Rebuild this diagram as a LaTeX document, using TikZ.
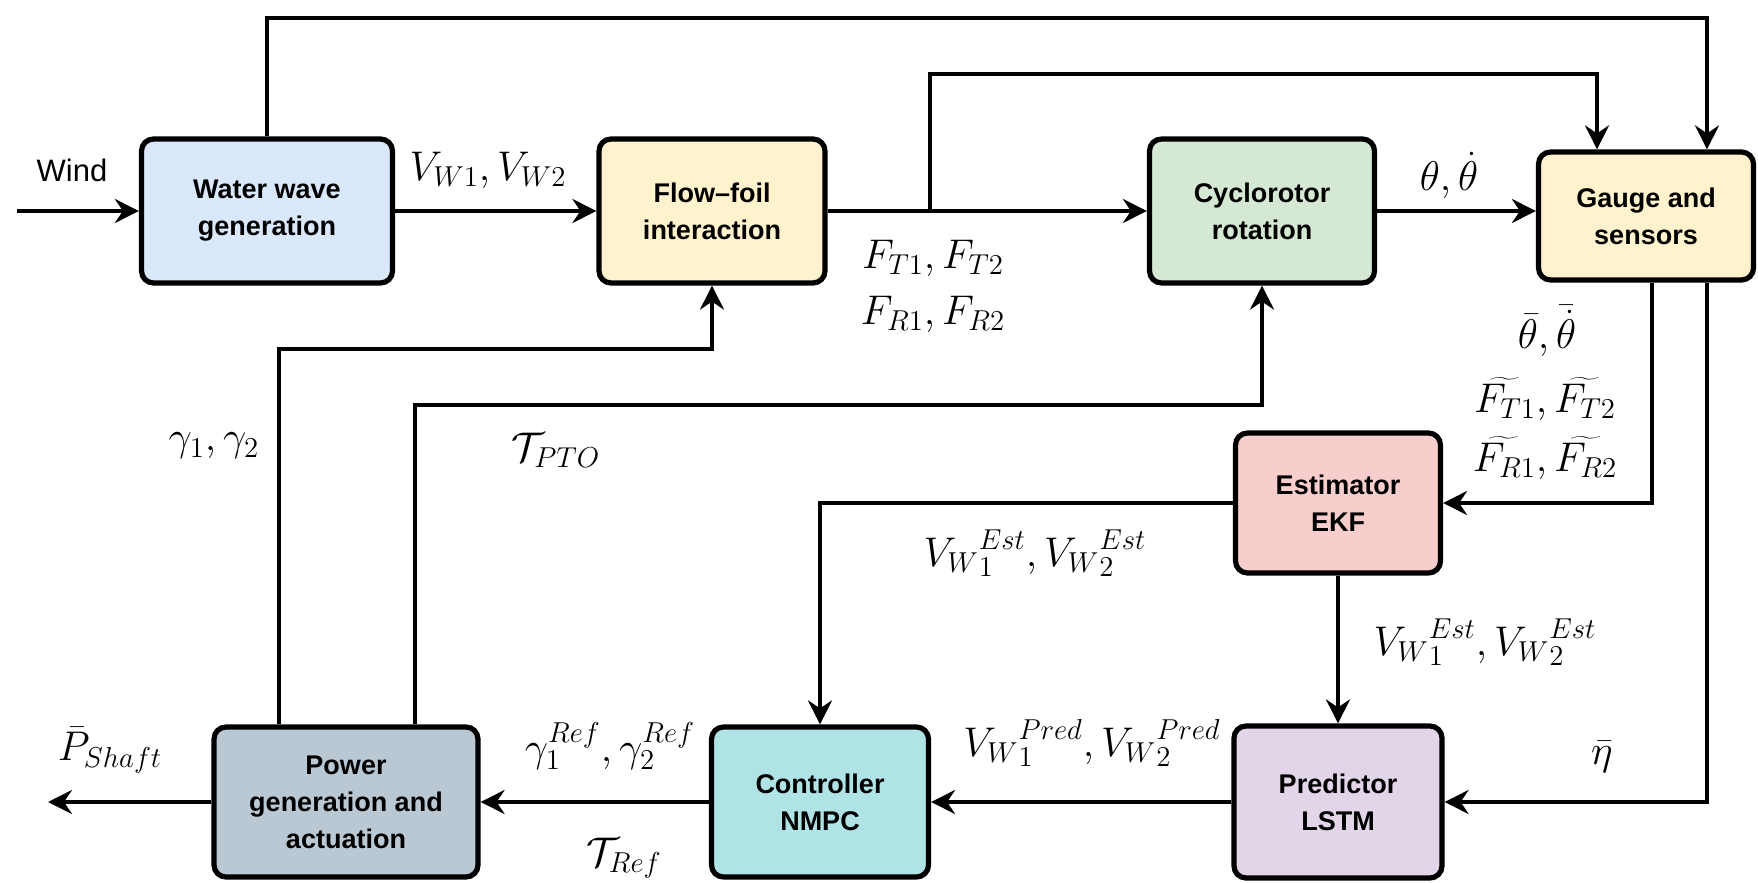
\documentclass[tikz,border=0pt]{standalone}
\usepackage{fontspec}
\setsansfont{Liberation Sans}
\usetikzlibrary{arrows.meta,calc}
\definecolor{cww}{HTML}{DAE8FC}
\definecolor{cyel}{HTML}{FFF2CC}
\definecolor{cgrn}{HTML}{D5E8D4}
\definecolor{cred}{HTML}{F8CECC}
\definecolor{cpur}{HTML}{E1D5E7}
\definecolor{ccyn}{HTML}{B0E3E6}
\definecolor{cgry}{HTML}{BAC8D3}
\tikzset{
  bx/.style 2 args={draw=black, line width=2.6pt, rounded corners=6pt, inner sep=0pt,
    minimum width=#1*0.5pt, minimum height=#2*0.5pt, align=center,
    font=\sffamily\bfseries\fontsize{13.5}{18.5}\selectfont},
  arr/.style={line width=1.7pt, -{Stealth[length=12pt,width=12pt,inset=4pt]}},
  lbl/.style={inner sep=0pt, font=\huge},
  windlbl/.style={inner sep=0pt, font=\sffamily\fontsize{15.5}{18}\selectfont}
}
\begin{document}
\begin{tikzpicture}[x=0.5pt,y=-0.5pt]
\useasboundingbox (0,0) rectangle (1758,883);
% boxes
\node[bx={251}{144}, fill=cww] (ww) at (267,211) {Water wave\\generation};
\node[bx={226}{144}, fill=cyel] (ff) at (712,211) {Flow--foil\\interaction};
\node[bx={225}{144}, fill=cgrn] (cy) at (1262,211) {Cyclorotor\\rotation};
\node[bx={215}{128}, fill=cyel] (gs) at (1646,216) {Gauge and\\sensors};
\node[bx={205}{140}, fill=cred] (est) at (1338,503) {Estimator\\EKF};
\node[bx={208}{152}, fill=cpur] (pred) at (1338,802) {Predictor\\LSTM};
\node[bx={217}{150}, fill=ccyn] (ctrl) at (820,802) {Controller\\NMPC};
\node[bx={264}{150}, fill=cgry] (pow) at (346,802) {Power\\generation and\\actuation};
% coordinates
\coordinate (ws) at (17,211);
\coordinate (br) at (930,211);
\coordinate (t2) at (1707,18);
\coordinate (b2) at (1597,74);
\coordinate (g1) at (1652,503);
\coordinate (g2) at (1707,802);
\coordinate (pe) at (48,802);
\coordinate (p1) at (279,349);
\coordinate (p2) at (415,405);
% connectors
\draw[arr] (ws) -- (ww.west);
\draw[arr] (ww.east) -- (ff.west);
\draw[arr] (ff.east) -- (cy.west);
\draw[arr] (br) |- (b2) -- (b2 |- gs.north);
\draw[arr] (ww.north) |- (t2) -- (t2 |- gs.north);
\draw[arr] (cy.east) -- (cy.east -| gs.west);
\draw[arr] (gs.south -| g1) -- (g1) -- (est.east);
\draw[arr] (gs.south -| g2) -- (g2) -- (pred.east);
\draw[arr] (est.west) -| (ctrl.north);
\draw[arr] (est.south) -- (pred.north);
\draw[arr] (pred.west) -- (ctrl.east);
\draw[arr] (ctrl.west) -- (pow.east);
\draw[arr] (pow.west) -- (pe);
\draw[arr] (pow.north -| p1) -- (p1) -| (ff.south);
\draw[arr] (pow.north -| p2) -- (p2) -| (cy.south);
% labels
\node[windlbl] (lw) at (72,170) {Wind};
\node[lbl] (lvw) at (488,170) {$V_{W1},V_{W2}$};
\node[lbl] (lft) at (933,258) {$F_{T1},F_{T2}$};
\node[lbl] (lfr) at (933,314) {$F_{R1},F_{R2}$};
\node[lbl] (lth) at (1449,175) {$\theta,\dot{\theta}$};
\node[lbl] (ls1) at (1547,331) {$\bar{\theta},\bar{\dot{\theta}}$};
\node[lbl] (ls2) at (1545,399) {$\widetilde{F_{T1}},\widetilde{F_{T2}}$};
\node[lbl] (ls3) at (1545,458) {$\widetilde{F_{R1}},\widetilde{F_{R2}}$};
\node[lbl] (le1) at (1035,553) {${V_W}_1^{Est},{V_W}_2^{Est}$};
\node[lbl] (le2) at (1485,642) {${V_W}_1^{Est},{V_W}_2^{Est}$};
\node[lbl] (lpr) at (1092,743) {${V_W}_1^{Pred},{V_W}_2^{Pred}$};
\node[lbl] (lgr) at (610,746) {$\gamma_1^{Ref},\gamma_2^{Ref}$};
\node[lbl] (ltr) at (624,858) {$\mathcal{T}_{Ref}$};
\node[lbl] (lps) at (110,750) {$\bar{P}_{Shaft}$};
\node[lbl] (leta) at (1602,757) {$\bar{\eta}$};
\node[lbl] (lg) at (214,446) {$\gamma_1,\gamma_2$};
\node[lbl] (ltp) at (556,450) {$\mathcal{T}_{PTO}$};
\end{tikzpicture}
\end{document}
